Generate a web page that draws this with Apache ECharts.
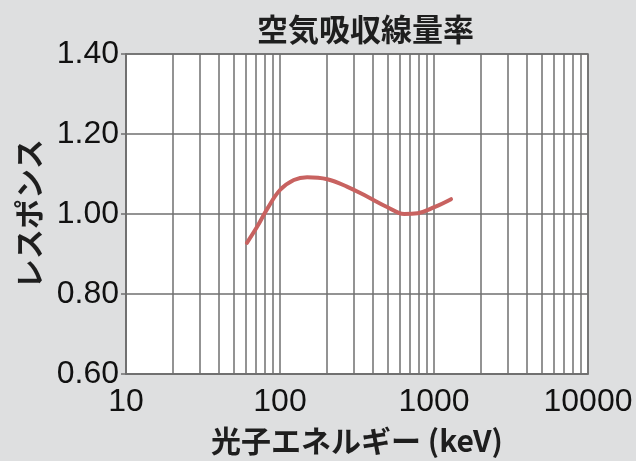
<!DOCTYPE html>
<html>
<head>
<meta charset="utf-8">
<script src="https://cdn.jsdelivr.net/npm/echarts@6/dist/echarts.min.js"></script>
<style>
  html, body { margin: 0; padding: 0; background: #dedfe0; }
  #main { width: 636px; height: 461px; }
</style>
</head>
<body>
<div id="main"></div>
<script>
// 光子エネルギー (keV) と レスポンス
var energy = [61, 71, 83, 100, 123, 150, 203, 274, 370, 499, 641, 783, 1005, 1290];
var response = [0.928, 0.968, 1.014, 1.06, 1.085, 1.092, 1.087, 1.068, 1.043, 1.017, 1.0, 1.002, 1.017, 1.037];
// 対数目盛の補助線
var minorX = [20, 30, 40, 50, 60, 70, 80, 90,
  200, 300, 400, 500, 600, 700, 800, 900,
  2000, 3000, 4000, 5000, 6000, 7000, 8000, 9000];

var jp = '"Noto Sans CJK JP", sans-serif';
var num = '"Liberation Sans", sans-serif';
var gridColor = '#6f6f6f';

var chart = echarts.init(document.getElementById('main'));
chart.setOption({
  backgroundColor: '#dedfe0',
  animation: false,
  title: {
    text: '空気吸収線量率',
    left: 252,
    top: 9,
    textStyle: { fontFamily: jp, fontSize: 31, fontWeight: 'bold', color: '#1e1e1e' }
  },
  grid: {
    left: 126, right: 48, top: 54, bottom: 87,
    show: true, backgroundColor: '#ffffff',
    borderColor: gridColor, borderWidth: 1.5
  },
  xAxis: {
    type: 'log',
    logBase: 10,
    min: 10,
    max: 10000,
    name: '光子エネルギー (keV)',
    nameLocation: 'middle',
    nameGap: 52,
    nameTextStyle: { fontFamily: jp, fontSize: 30, fontWeight: 'bold', color: '#1e1e1e' },
    axisLine: { show: true, lineStyle: { color: gridColor, width: 1.5 } },
    axisTick: { show: false },
    axisLabel: {
      margin: 12,
      fontFamily: num, fontSize: 32, color: '#111111',
      formatter: function (v) { return String(Math.round(v)); }
    },
    splitLine: { show: true, lineStyle: { color: gridColor, width: 1.5 } }
  },
  yAxis: {
    type: 'value',
    min: 0.6,
    max: 1.4,
    interval: 0.2,
    name: 'レスポンス',
    nameLocation: 'middle',
    nameGap: 82,
    nameTextStyle: { fontFamily: jp, fontSize: 30, fontWeight: 'bold', color: '#1e1e1e' },
    axisLine: { show: true, lineStyle: { color: gridColor, width: 1.5 } },
    axisTick: { show: true, length: 5, lineStyle: { color: gridColor, width: 1.5 } },
    axisLabel: {
      margin: 7,
      fontFamily: num, fontSize: 32, color: '#111111',
      formatter: function (v) { return v.toFixed(2); }
    },
    splitLine: { show: true, lineStyle: { color: gridColor, width: 1.5 } }
  },
  series: [{
    type: 'line',
    data: energy.map(function (e, i) { return [e, response[i]]; }),
    smooth: 0.4,
    showSymbol: false,
    lineStyle: { color: '#c86260', width: 4, cap: 'round' },
    z: 5,
    markLine: {
      silent: true,
      symbol: ['none', 'none'],
      label: { show: false },
      lineStyle: { color: gridColor, width: 1.5, type: 'solid' },
      data: minorX.map(function (v) { return { xAxis: v }; }),
      z: 1
    }
  }]
});
</script>
</body>
</html>
